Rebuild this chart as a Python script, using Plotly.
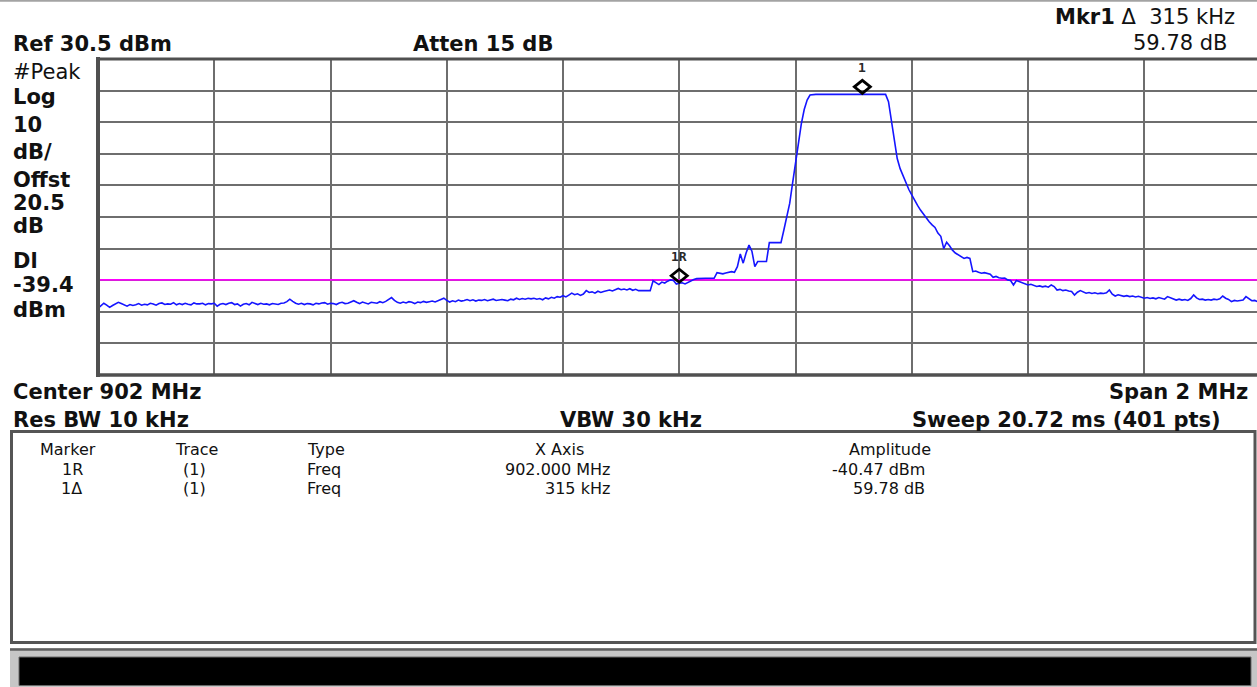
import plotly.graph_objects as go

# ---- analyzer settings ----
center_mhz = 902
span_mhz = 2
ref_level_dbm = 30.5
scale_db_per_div = 10
offset_db = 20.5
atten_db = 15
display_line_dbm = -39.4
res_bw_khz = 10
vbw_khz = 30
sweep_ms = 20.72
sweep_points = 401

# ---- marker readout ----
mkr_ref_freq_mhz = 902.000
mkr_ref_amp_dbm = -40.47
mkr_delta_khz = 315
mkr_delta_db = 59.78

# ---- trace 1, peak detector, 401 points (dBm) ----
trace_dbm = [
    -48.4, -47.6, -46.8, -47.4, -48.1, -47.5, -47.0, -46.5, -46.9, -47.3,
    -47.7, -47.2, -47.5, -47.3, -46.9, -47.4, -47.1, -47.3, -46.8, -47.0,
    -47.4, -46.9, -46.7, -47.2, -47.0, -47.1, -46.6, -47.3, -46.9, -47.2,
    -46.8, -47.1, -47.3, -46.7, -47.0, -47.0, -46.8, -47.3, -46.9, -47.0,
    -46.8, -47.7, -47.1, -46.9, -47.2, -46.8, -46.6, -47.2, -47.0, -47.7,
    -47.1, -46.9, -47.3, -46.5, -46.9, -47.2, -46.8, -47.1, -47.0, -47.3,
    -46.9, -47.0, -47.2, -46.8, -46.7, -46.3, -45.5, -46.2, -46.8, -47.1,
    -46.8, -47.2, -46.9, -47.0, -47.3, -46.8, -47.0, -46.7, -46.6, -47.1,
    -46.8, -46.9, -47.2, -46.7, -46.5, -46.9, -46.8, -46.4, -46.0, -46.5,
    -46.9, -46.4, -46.6, -47.0, -46.5, -46.7, -46.8, -46.3, -46.6, -46.2,
    -45.7, -45.0, -45.9, -46.5, -46.8, -46.4, -46.7, -46.3, -46.5, -46.9,
    -46.4, -46.6, -46.2, -46.5, -46.3, -46.1, -46.4, -46.0, -45.8, -45.2,
    -45.9, -46.4, -46.0, -46.3, -45.8, -46.1, -45.9, -45.6, -46.0, -45.7,
    -46.1, -45.8, -45.9, -45.6, -46.0, -45.8, -45.5, -45.9, -45.7, -45.6,
    -45.8, -46.0, -45.5, -45.7, -45.2, -45.6, -45.3, -45.5, -45.2, -45.4,
    -45.2, -45.5, -45.3, -45.7, -45.1, -45.4, -44.9, -45.2, -44.7, -44.9,
    -44.4, -44.8, -44.2, -43.6, -44.1, -43.8, -44.3, -43.9, -42.8, -43.4,
    -43.2, -43.6, -43.0, -43.4, -43.1, -42.9, -42.6, -42.9, -42.4, -42.1,
    -42.5, -42.3, -42.6, -42.2, -42.7, -42.4, -42.8, -42.8, -42.8, -42.8,
    -42.8, -39.7, -40.3, -40.9, -40.1, -40.4, -39.8, -39.4, -39.6, -40.7,
    -40.47, -40.3, -40.7, -40.2, -39.6, -39.3, -39.0, -38.9, -38.9, -38.9,
    -38.9, -38.9, -38.9, -37.1, -37.4, -37.5, -37.2, -36.9, -36.8, -37.0,
    -35.2, -31.2, -34.1, -30.9, -28.4, -30.3, -35.2, -33.6, -33.6, -33.6,
    -33.6, -27.6, -27.6, -27.6, -27.6, -27.6, -23.6, -18.9, -15.2, -8.8,
    -2.5, 4.5, 10.0, 14.5, 17.5, 19.1, 19.31, 19.31, 19.31, 19.31,
    19.31, 19.31, 19.31, 19.31, 19.31, 19.31, 19.31, 19.31, 19.31, 19.31,
    19.31, 19.31, 19.31, 19.31, 19.31, 19.31, 19.31, 19.31, 19.31, 19.31,
    19.31, 19.31, 17.0, 10.5, 4.0, -1.0, -4.2, -6.6, -8.6, -10.8,
    -12.5, -14.4, -15.8, -17.3, -18.6, -19.8, -21.0, -22.0, -22.8, -24.6,
    -25.6, -29.5, -27.5, -28.6, -30.0, -30.9, -31.4, -32.1, -32.6, -32.3,
    -32.6, -36.8, -36.6, -37.0, -37.3, -37.1, -37.3, -37.6, -38.6, -38.3,
    -38.7, -38.9, -38.8, -39.4, -39.6, -41.0, -39.6, -39.9, -40.2, -40.6,
    -41.0, -40.8, -41.2, -41.5, -41.3, -41.6, -41.4, -41.7, -41.0, -41.5,
    -42.6, -42.4, -42.8, -42.6, -42.9, -43.1, -44.2, -43.3, -42.8, -43.2,
    -43.6, -43.4, -43.7, -43.5, -43.8, -43.6, -43.7, -43.5, -42.6, -43.9,
    -44.5, -44.1, -44.3, -44.6, -44.4, -44.7, -44.5, -44.8, -44.6, -45.0,
    -45.2, -45.0, -45.3, -45.1, -45.4, -45.0, -45.2, -45.5, -44.7, -45.1,
    -45.4, -45.8, -45.5, -45.8, -45.6, -45.9, -45.3, -44.2, -45.1, -45.6,
    -45.5, -45.8, -45.6, -45.8, -45.5, -45.7, -45.4, -44.5, -45.2, -45.6,
    -46.3, -45.9, -46.1, -46.0, -45.8, -44.7, -45.4, -46.0, -45.9, -46.3,
    -46.1,
]

start_mhz = center_mhz - span_mhz / 2
stop_mhz = center_mhz + span_mhz / 2
step_mhz = span_mhz / (sweep_points - 1)
bottom_dbm = ref_level_dbm - 10 * scale_db_per_div
mkr_delta_freq_mhz = mkr_ref_freq_mhz + mkr_delta_khz / 1000
mkr_delta_amp_dbm = mkr_ref_amp_dbm + mkr_delta_db

# ---- screen geometry (pixels) ----
W, H = 1257, 687
GL, GT, GR, GB = 98, 59, 1257, 375      # graticule box on screen
DIV_PX = 116.25                         # one horizontal division


def fx(x):
    return (x - GL) / (GR - GL)


def fy(y):
    return (GB - y) / (GB - GT)


x_range = [start_mhz, start_mhz + span_mhz / 10 * (GR - GL) / DIV_PX]

TXT = "#111111"
BOLD = dict(family="DejaVu Sans", size=21, color=TXT, weight="bold")
REG = dict(family="DejaVu Sans", size=21, color=TXT)
SMALL = dict(family="DejaVu Sans", size=16, color=TXT)
MKR = dict(family="DejaVu Sans Mono", size=13, color="#2a2a2a", weight="bold")

fig = go.Figure()
# display line across the full sweep
fig.add_trace(go.Scatter(
    x=[start_mhz, stop_mhz], y=[display_line_dbm, display_line_dbm],
    mode="lines", line=dict(color="#ff00ff", width=1.6), hoverinfo="skip",
))
# measured trace
fig.add_trace(go.Scatter(
    x0=start_mhz, dx=step_mhz, y=trace_dbm, mode="lines",
    line=dict(color="#1515ff", width=1.6), hoverinfo="skip",
))

annotations = []


def label(text, x, y, anchor="left", font=BOLD):
    annotations.append(dict(
        text=text, x=fx(x), y=fy(y), xref="paper", yref="paper",
        xanchor=anchor, yanchor="middle", showarrow=False, font=font,
    ))


# header
label(f"Ref {ref_level_dbm} dBm", 11, 44.5)
label(f"Atten {atten_db} dB", 411, 44.5)
label(f"<b>Mkr1</b> Δ\u00a0\u00a0{mkr_delta_khz} kHz", 1237, 17, "right", REG)
label(f"{mkr_delta_db:.2f} dB", 1230, 43, "right", REG)

# left annotation column
label("#Peak", 11, 72, font=REG)
label("Log", 11, 97)
label(f"{scale_db_per_div}", 11, 125)
label("dB/", 11, 152)
label("Offst", 11, 179.5)
label(f"{offset_db}", 11, 202.5)
label("dB", 11, 226.5)
label("Dl", 11, 260.5)
label(f"{display_line_dbm}", 11, 285)
label("dBm", 11, 309.5)

# footer
label(f"Center {center_mhz} MHz", 11, 392)
label(f"Span {span_mhz} MHz", 1250, 392, "right")
label(f"Res BW {res_bw_khz} kHz", 11, 420)
label(f"VBW {vbw_khz} kHz", 631, 420, "center")
label(f"Sweep {sweep_ms} ms ({sweep_points} pts)", 910, 420)

# marker table
label("Marker", 68, 449, "center", SMALL)
label("Trace", 196, 449, "center", SMALL)
label("Type", 305, 449, "left", SMALL)
label("X Axis", 559, 449, "center", SMALL)
label("Amplitude", 890, 449, "center", SMALL)

label("1R", 72, 469, "center", SMALL)
label("(1)", 194, 469, "center", SMALL)
label("Freq", 305, 469, "left", SMALL)
label(f"{mkr_ref_freq_mhz:.3f} MHz", 612, 469, "right", SMALL)
label(f"{mkr_ref_amp_dbm:.2f} dBm", 927, 469, "right", SMALL)

label("1Δ", 71, 488, "center", SMALL)
label("(1)", 194, 488, "center", SMALL)
label("Freq", 305, 488, "left", SMALL)
label(f"{mkr_delta_khz} kHz", 612, 488, "right", SMALL)
label(f"{mkr_delta_db:.2f} dB", 927, 488, "right", SMALL)

# marker tags above the diamonds
for tag, fx_m, fy_m in (("1R", mkr_ref_freq_mhz, mkr_ref_amp_dbm),
                        ("1", mkr_delta_freq_mhz, mkr_delta_amp_dbm)):
    annotations.append(dict(
        text=tag, x=fx_m, y=fy_m, xref="x", yref="y", yshift=27,
        showarrow=False, font=MKR, xanchor="center", yanchor="middle",
    ))

GRID = "#505050"
shapes = [
    # thin rule across the top of the screen
    dict(type="line", xref="paper", yref="paper", x0=fx(0), x1=fx(W),
         y0=fy(0.8), y1=fy(0.8), line=dict(color="#a3a3a3", width=2)),
    # graticule frame
    dict(type="line", xref="paper", yref="paper", x0=0, x1=0,
         y0=fy(GB + 2), y1=fy(GT - 2), line=dict(color=GRID, width=4)),
    dict(type="line", xref="paper", yref="paper", x0=fx(GL - 2), x1=1,
         y0=1, y1=1, line=dict(color=GRID, width=3)),
    dict(type="line", xref="paper", yref="paper", x0=fx(GL - 2), x1=1,
         y0=0, y1=0, line=dict(color=GRID, width=3.5)),
    # marker table box
    dict(type="rect", xref="paper", yref="paper", x0=fx(11.5), x1=fx(1255),
         y0=fy(642.5), y1=fy(431.5), line=dict(color="#555555", width=3)),
    # status bar at the bottom
    dict(type="rect", xref="paper", yref="paper", x0=fx(10), x1=fx(W),
         y0=fy(H), y1=fy(648), fillcolor="#c6c6c6", line=dict(width=0)),
    dict(type="line", xref="paper", yref="paper", x0=fx(10), x1=fx(W),
         y0=fy(649.5), y1=fy(649.5), line=dict(color="#5f5f5f", width=2.5)),
    dict(type="rect", xref="paper", yref="paper", x0=fx(19), x1=fx(1251),
         y0=fy(685.5), y1=fy(657), fillcolor="#000000",
         line=dict(color="#6a6a6a", width=1)),
]

# marker diamonds, bottom vertex sitting on the trace point
for fx_m, fy_m in ((mkr_ref_freq_mhz, mkr_ref_amp_dbm),
                   (mkr_delta_freq_mhz, mkr_delta_amp_dbm)):
    shapes.append(dict(
        type="path", xref="x", yref="y", xsizemode="pixel", ysizemode="pixel",
        xanchor=fx_m, yanchor=fy_m, path="M0,1 L8,7.5 L0,14 L-8,7.5 Z",
        line=dict(color="#000000", width=2.8), layer="above",
    ))

axis_common = dict(showgrid=True, gridcolor="#6e6e6e", gridwidth=2,
                   showticklabels=False, ticks="", zeroline=False,
                   showline=False, fixedrange=True)

fig.update_layout(
    width=W, height=H,
    margin=dict(l=GL, r=W - GR, t=GT, b=H - GB, pad=0),
    paper_bgcolor="white", plot_bgcolor="white",
    showlegend=False,
    xaxis=dict(range=x_range, tick0=start_mhz, dtick=span_mhz / 10, **axis_common),
    yaxis=dict(range=[bottom_dbm, ref_level_dbm], tick0=bottom_dbm,
               dtick=scale_db_per_div, **axis_common),
    annotations=annotations,
    shapes=shapes,
)

fig.write_html("out.html", config={"displayModeBar": False})
